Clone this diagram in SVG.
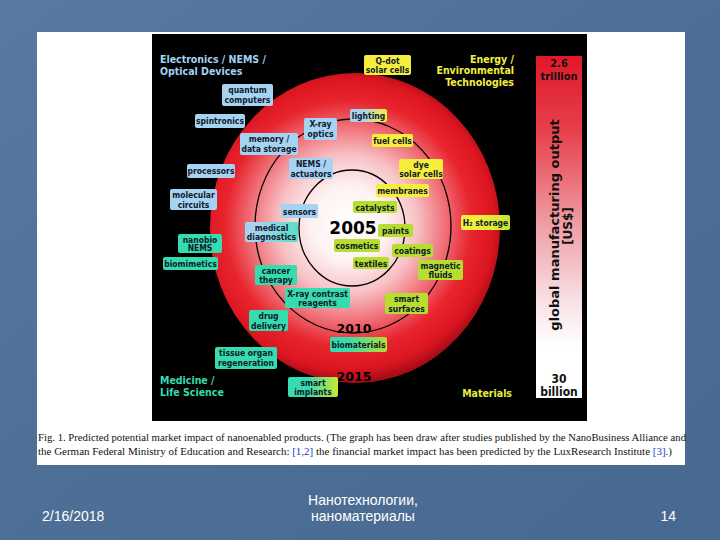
<svg xmlns="http://www.w3.org/2000/svg" width="720" height="540" viewBox="0 0 720 540">
<defs>
<linearGradient id="bg" x1="0" y1="0" x2="1" y2="1">
<stop offset="0" stop-color="#587aa0"/><stop offset="0.5" stop-color="#4d6f96"/><stop offset="1" stop-color="#48698f"/>
</linearGradient>
<radialGradient id="disc" gradientUnits="userSpaceOnUse" cx="348" cy="224" r="158">
<stop offset="0" stop-color="#ffffff"/><stop offset="0.24" stop-color="#fdf2f2"/><stop offset="0.44" stop-color="#f7c0c4"/><stop offset="0.63" stop-color="#ef6a72"/><stop offset="0.78" stop-color="#e8242e"/><stop offset="0.92" stop-color="#dc1620"/><stop offset="1" stop-color="#a80c16"/>
</radialGradient>
<linearGradient id="bar" x1="0" y1="0" x2="0" y2="1">
<stop offset="0" stop-color="#e01828"/><stop offset="0.22" stop-color="#e6404c"/><stop offset="0.5" stop-color="#efa0a8"/><stop offset="0.72" stop-color="#f8e2e6"/><stop offset="0.85" stop-color="#ffffff"/><stop offset="1" stop-color="#ffffff"/>
</linearGradient>
<linearGradient id="gBY" x1="0" y1="0" x2="1" y2="0"><stop offset="0.3" stop-color="#a7d3f3"/><stop offset="1" stop-color="#f5ee3c"/></linearGradient>
<linearGradient id="gBT" x1="0" y1="0" x2="1" y2="0"><stop offset="0.2" stop-color="#a7d3f3"/><stop offset="1" stop-color="#5cdcc4"/></linearGradient>
<linearGradient id="gTG" x1="0" y1="0" x2="1" y2="0"><stop offset="0.3" stop-color="#36dcae"/><stop offset="1" stop-color="#b6de2e"/></linearGradient>
<linearGradient id="gTY" x1="0" y1="0" x2="1" y2="0"><stop offset="0.4" stop-color="#36dcae"/><stop offset="1" stop-color="#c8e830"/></linearGradient>
<linearGradient id="gYG" x1="0" y1="0" x2="1" y2="0"><stop offset="0.3" stop-color="#f5ee3c"/><stop offset="1" stop-color="#c8e430"/></linearGradient>
</defs>
<style>
.lb{font-family:"DejaVu Sans Condensed","DejaVu Sans",sans-serif;font-weight:bold;font-size:8.5px;text-anchor:middle;fill:#101a2c}
.b{fill:#a7d3f3}.y{fill:#f5ee3c}.g{fill:#b6de2e}.t{fill:#36dcae}
.ttl{font-family:"DejaVu Sans Condensed","DejaVu Sans",sans-serif;font-weight:bold;font-size:10.5px}
.yr{font-family:"DejaVu Sans","Liberation Sans",sans-serif;font-weight:bold;fill:#000}
.ring{fill:none;stroke:#000;stroke-width:1.3}
.cap{font-family:"Liberation Serif","Times New Roman",serif;font-size:10.5px;fill:#111}
.ft{font-family:"Liberation Sans",Arial,sans-serif;font-size:14px;fill:#ffffff}
.bar{font-family:"DejaVu Sans Condensed","DejaVu Sans",sans-serif;font-weight:bold;fill:#111}
</style>
<rect x="0" y="0" width="720" height="540" fill="url(#bg)"/>
<rect x="37" y="32" width="648" height="433" fill="#ffffff"/>
<rect x="152" y="34" width="435" height="387" fill="#000000"/>
<ellipse cx="355" cy="228" rx="145" ry="155" fill="url(#disc)"/>
<rect x="536" y="56" width="46" height="342" fill="url(#bar)"/>
<text class="bar" x="559" y="67" font-size="11" text-anchor="middle" fill="#5a1010">2.6</text>
<text class="bar" x="559" y="79.5" font-size="11" text-anchor="middle" fill="#3a0a0a">trillion</text>
<text class="bar" font-size="13" text-anchor="middle" transform="translate(559,225) rotate(-90)" style="font-family:'DejaVu Sans',sans-serif">global manufacturing output</text>
<text class="bar" font-size="12" text-anchor="middle" transform="translate(572,226) rotate(-90)" style="font-family:'DejaVu Sans',sans-serif">[US$]</text>
<text class="bar" x="559" y="383" font-size="12" text-anchor="middle">30</text>
<text class="bar" x="559" y="395.5" font-size="12" text-anchor="middle">billion</text>

<g id="connectors">
<ellipse class="ring" cx="352" cy="228" rx="53" ry="58"/>
<ellipse class="ring" cx="353" cy="226" rx="98" ry="107"/>
</g>

<g id="titles">
<text class="ttl" x="160" y="63" fill="#a4d2f4">Electronics / NEMS /</text>
<text class="ttl" x="160" y="75" fill="#a4d2f4">Optical Devices</text>
<text class="ttl" x="514" y="62.5" fill="#f2f040" text-anchor="end">Energy /</text>
<text class="ttl" x="514" y="74" fill="#f2f040" text-anchor="end">Environmental</text>
<text class="ttl" x="514" y="85.5" fill="#f2f040" text-anchor="end">Technologies</text>
<text class="ttl" x="160" y="384" fill="#34dcae">Medicine /</text>
<text class="ttl" x="160" y="396" fill="#34dcae">Life Science</text>
<text class="ttl" x="512" y="397" fill="#e4ee40" text-anchor="end">Materials</text>
</g>

<g id="years">
<text class="yr" x="353" y="234" font-size="17" text-anchor="middle">2005</text>
<text class="yr" x="354" y="333" font-size="12.5" text-anchor="middle">2010</text>
<text class="yr" x="354" y="381" font-size="12.5" text-anchor="middle" fill="#6a0014">2015</text>
</g>

<g id="quantum-computers"><rect class="b" x="222" y="84" width="51" height="22" rx="2"/><text class="lb" x="247.5" y="93">quantum</text><text class="lb" x="247.5" y="103">computers</text></g>
<g id="spintronics"><rect class="b" x="195" y="114" width="50" height="14" rx="2"/><text class="lb" x="220" y="124">spintronics</text></g>
<g id="memory"><rect class="b" x="240" y="133" width="58" height="22" rx="2"/><text class="lb" x="269" y="142">memory /</text><text class="lb" x="269" y="152">data storage</text></g>
<g id="xray-optics"><rect class="b" x="304" y="118" width="33" height="22" rx="2"/><text class="lb" x="320.5" y="127">X-ray</text><text class="lb" x="320.5" y="137">optics</text></g>
<g id="processors"><rect class="b" x="187" y="164" width="48" height="14" rx="2"/><text class="lb" x="211" y="174">processors</text></g>
<g id="molecular-circuits"><rect class="b" x="170" y="189" width="47" height="21" rx="2"/><text class="lb" x="193.5" y="198">molecular</text><text class="lb" x="193.5" y="208">circuits</text></g>
<g id="nems-actuators"><rect class="b" x="289" y="158" width="44" height="21" rx="2"/><text class="lb" x="311" y="167">NEMS /</text><text class="lb" x="311" y="177">actuators</text></g>
<g id="sensors"><rect class="b" x="281" y="204" width="37" height="14" rx="2"/><text class="lb" x="299.5" y="214.5">sensors</text></g>
<g id="lighting"><rect x="350" y="109" width="37" height="13" rx="2" fill="url(#gBY)"/><text class="lb" x="368.5" y="119">lighting</text></g>
<g id="qdot"><rect class="y" x="364" y="55" width="47" height="20" rx="2"/><text class="lb" x="387.5" y="64">Q-dot</text><text class="lb" x="387.5" y="73">solar cells</text></g>
<g id="fuel-cells"><rect class="y" x="372" y="134" width="41" height="13" rx="2"/><text class="lb" x="392.5" y="144">fuel cells</text></g>
<g id="dye-solar"><rect class="y" x="399" y="159" width="44" height="20" rx="2"/><text class="lb" x="421" y="168">dye</text><text class="lb" x="421" y="177">solar cells</text></g>
<g id="membranes"><rect class="y" x="376" y="184" width="53" height="13" rx="2"/><text class="lb" x="402.5" y="194">membranes</text></g>
<g id="h2-storage"><rect x="461" y="215" width="49" height="15" rx="2" fill="url(#gYG)"/><text class="lb" x="485.5" y="226">H₂ storage</text></g>
<g id="catalysts"><rect class="g" x="353" y="201" width="44" height="12" rx="2"/><text class="lb" x="375" y="210.5">catalysts</text></g>
<g id="paints"><rect class="g" x="378" y="224" width="35" height="13" rx="2"/><text class="lb" x="395.5" y="234">paints</text></g>
<g id="cosmetics"><rect class="g" x="334" y="239" width="46" height="13" rx="2"/><text class="lb" x="357" y="249">cosmetics</text></g>
<g id="coatings"><rect class="g" x="392" y="244" width="41" height="13" rx="2"/><text class="lb" x="412.5" y="254">coatings</text></g>
<g id="textiles"><rect class="g" x="353" y="257" width="36" height="12" rx="2"/><text class="lb" x="371" y="266.5">textiles</text></g>
<g id="magnetic-fluids"><rect class="g" x="418" y="260" width="45" height="20" rx="2"/><text class="lb" x="440.5" y="269">magnetic</text><text class="lb" x="440.5" y="278">fluids</text></g>
<g id="smart-surfaces"><rect class="g" x="385" y="293" width="43" height="21" rx="2"/><text class="lb" x="406.5" y="302">smart</text><text class="lb" x="406.5" y="311.5">surfaces</text></g>
<g id="medical-diagnostics"><rect x="245" y="222" width="53" height="20" rx="2" fill="url(#gBT)"/><text class="lb" x="271.5" y="231">medical</text><text class="lb" x="271.5" y="240">diagnostics</text></g>
<g id="nanobio-nems"><rect class="t" x="178" y="234" width="44" height="19" rx="2"/><text class="lb" x="200" y="242.5">nanobio</text><text class="lb" x="200" y="251">NEMS</text></g>
<g id="biomimetics"><rect class="t" x="163" y="257" width="55" height="13" rx="2"/><text class="lb" x="190.5" y="267">biomimetics</text></g>
<g id="cancer-therapy"><rect class="t" x="255" y="265" width="42" height="20" rx="2"/><text class="lb" x="276" y="274">cancer</text><text class="lb" x="276" y="283">therapy</text></g>
<g id="xray-contrast"><rect class="t" x="285" y="288" width="65" height="20" rx="2"/><text class="lb" x="317.5" y="297">X-ray contrast</text><text class="lb" x="317.5" y="306">reagents</text></g>
<g id="drug-delivery"><rect class="t" x="249" y="310" width="39" height="21" rx="2"/><text class="lb" x="268.5" y="319">drug</text><text class="lb" x="268.5" y="328.5">delivery</text></g>
<g id="biomaterials"><rect x="330" y="337" width="57" height="15" rx="2" fill="url(#gTG)"/><text class="lb" x="358.5" y="347.5">biomaterials</text></g>
<g id="tissue-organ"><rect class="t" x="215" y="347" width="62" height="22" rx="2"/><text class="lb" x="246" y="356">tissue organ</text><text class="lb" x="246" y="366">regeneration</text></g>
<g id="smart-implants"><rect x="288" y="377" width="50" height="20" rx="2" fill="url(#gTY)"/><text class="lb" x="313" y="386">smart</text><text class="lb" x="313" y="395">implants</text></g>

<g id="caption">
<text class="cap" x="38" y="441" textLength="648" lengthAdjust="spacingAndGlyphs">Fig. 1. Predicted potential market impact of nanoenabled products. (The graph has been draw after studies published by the NanoBusiness Alliance and</text>
<text class="cap" x="38" y="455" textLength="634" lengthAdjust="spacingAndGlyphs">the German Federal Ministry of Education and Research: <tspan fill="#2040c0">[1,2]</tspan> the financial market impact has been predicted by the LuxResearch Institute <tspan fill="#2040c0">[3]</tspan>.)</text>
</g>

<g id="footer">
<text class="ft" x="42" y="521">2/16/2018</text>
<text class="ft" x="363" y="505" text-anchor="middle">Нанотехнологии,</text>
<text class="ft" x="363" y="521" text-anchor="middle">наноматериалы</text>
<text class="ft" x="676" y="521" text-anchor="end">14</text>
</g>
</svg>
